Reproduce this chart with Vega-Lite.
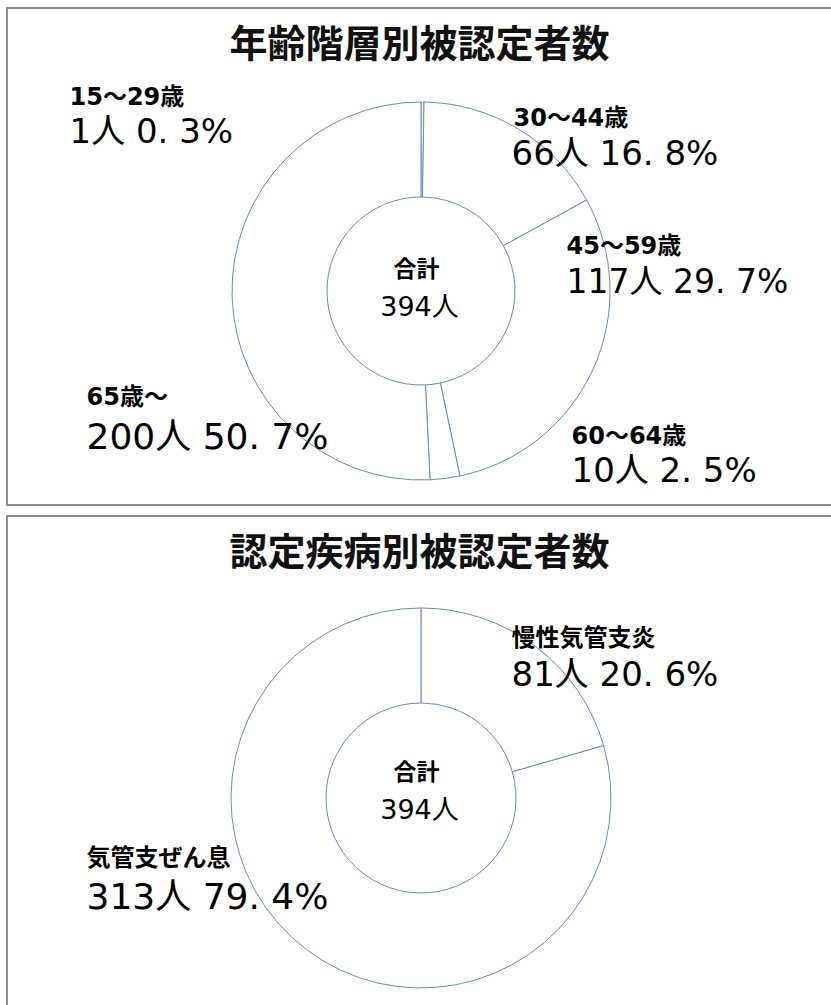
{
  "$schema": "https://vega.github.io/schema/vega-lite/v6.json",
  "padding": {"left": 6, "top": 7, "right": 0, "bottom": 0},
  "spacing": 9,
  "background": "white",
  "config": {
    "view": {"stroke": "#8c8c8c", "strokeWidth": 2},
    "style": {"view": {"stroke": "#8c8c8c", "strokeWidth": 2}},
    "font": "Noto Sans CJK JP",
    "text": {"font": "Noto Sans CJK JP", "color": "#000000"},
    "title": {"font": "Noto Sans CJK JP", "fontSize": 38, "fontWeight": "bold", "color": "#111111", "anchor": "middle", "frame": "group"}
  },
  "datasets": {
    "age": [
      {"seq": 1, "group": "15～29歳", "count": 1, "label": "1人  0. 3%"},
      {"seq": 2, "group": "30～44歳", "count": 66, "label": "66人  16. 8%"},
      {"seq": 3, "group": "45～59歳", "count": 117, "label": "117人  29. 7%"},
      {"seq": 4, "group": "60～64歳", "count": 10, "label": "10人  2. 5%"},
      {"seq": 5, "group": "65歳～", "count": 200, "label": "200人  50. 7%"}
    ],
    "disease": [
      {"seq": 1, "group": "慢性気管支炎", "count": 81, "label": "81人  20. 6%"},
      {"seq": 2, "group": "気管支ぜん息", "count": 313, "label": "313人  79. 4%"}
    ]
  },
  "vconcat": [
    {
      "width": 825,
      "height": 497,
      "view": {"stroke": "#8c8c8c", "strokeWidth": 2},
      "data": {"name": "age"},
      "title": {"text": "年齢階層別被認定者数", "offset": -57},
      "layer": [
        {
          "mark": {"type": "arc", "radius": 189, "radius2": 94, "fill": "white", "stroke": "#6a88c0", "strokeWidth": 1, "xOffset": 1.5, "yOffset": 34.5},
          "encoding": {
            "theta": {"field": "count", "type": "quantitative", "stack": true},
            "order": {"field": "seq", "type": "quantitative"}
          }
        },
        {
          "transform": [{"aggregate": [{"op": "sum", "field": "count", "as": "total"}]}],
          "mark": {"type": "text", "text": "合計", "align": "center", "baseline": "middle", "dx": -3, "dy": 13, "fontSize": 23, "fontWeight": "bold"},
          "encoding": {}
        },
        {
          "transform": [{"aggregate": [{"op": "sum", "field": "count", "as": "total"}]}, {"calculate": "datum.total + '人'", "as": "t"}],
          "mark": {"type": "text", "align": "center", "baseline": "middle", "dx": 0, "dy": 51, "fontSize": 27, "font": "DejaVu Sans, Noto Sans CJK JP"},
          "encoding": {"text": {"field": "t", "type": "nominal"}}
        },
        {"transform": [{"filter": "datum.seq == 1"}], "mark": {"type": "text", "align": "left", "baseline": "middle", "dx": -350, "dy": -159, "fontSize": 24, "fontWeight": "bold", "font": "DejaVu Sans, Noto Sans CJK JP"}, "encoding": {"text": {"field": "group", "type": "nominal"}}},
        {"transform": [{"filter": "datum.seq == 1"}], "mark": {"type": "text", "align": "left", "baseline": "middle", "dx": -350, "dy": -124, "fontSize": 34, "font": "DejaVu Sans, Noto Sans CJK JP"}, "encoding": {"text": {"field": "label", "type": "nominal"}}},
        {"transform": [{"filter": "datum.seq == 2"}], "mark": {"type": "text", "align": "left", "baseline": "middle", "dx": 94, "dy": -138, "fontSize": 24, "fontWeight": "bold", "font": "DejaVu Sans, Noto Sans CJK JP"}, "encoding": {"text": {"field": "group", "type": "nominal"}}},
        {"transform": [{"filter": "datum.seq == 2"}], "mark": {"type": "text", "align": "left", "baseline": "middle", "dx": 92, "dy": -102, "fontSize": 34, "font": "DejaVu Sans, Noto Sans CJK JP"}, "encoding": {"text": {"field": "label", "type": "nominal"}}},
        {"transform": [{"filter": "datum.seq == 3"}], "mark": {"type": "text", "align": "left", "baseline": "middle", "dx": 147, "dy": -10, "fontSize": 24, "fontWeight": "bold", "font": "DejaVu Sans, Noto Sans CJK JP"}, "encoding": {"text": {"field": "group", "type": "nominal"}}},
        {"transform": [{"filter": "datum.seq == 3"}], "mark": {"type": "text", "align": "left", "baseline": "middle", "dx": 147, "dy": 26, "fontSize": 33, "font": "DejaVu Sans, Noto Sans CJK JP"}, "encoding": {"text": {"field": "label", "type": "nominal"}}},
        {"transform": [{"filter": "datum.seq == 4"}], "mark": {"type": "text", "align": "left", "baseline": "middle", "dx": 152, "dy": 180, "fontSize": 24, "fontWeight": "bold", "font": "DejaVu Sans, Noto Sans CJK JP"}, "encoding": {"text": {"field": "group", "type": "nominal"}}},
        {"transform": [{"filter": "datum.seq == 4"}], "mark": {"type": "text", "align": "left", "baseline": "middle", "dx": 152, "dy": 215, "fontSize": 34, "font": "DejaVu Sans, Noto Sans CJK JP"}, "encoding": {"text": {"field": "label", "type": "nominal"}}},
        {"transform": [{"filter": "datum.seq == 5"}], "mark": {"type": "text", "align": "left", "baseline": "middle", "dx": -333, "dy": 141, "fontSize": 24, "fontWeight": "bold", "font": "DejaVu Sans, Noto Sans CJK JP"}, "encoding": {"text": {"field": "group", "type": "nominal"}}},
        {"transform": [{"filter": "datum.seq == 5"}], "mark": {"type": "text", "align": "left", "baseline": "middle", "dx": -333, "dy": 181, "fontSize": 36, "font": "DejaVu Sans, Noto Sans CJK JP"}, "encoding": {"text": {"field": "label", "type": "nominal"}}}
      ]
    },
    {
      "width": 825,
      "height": 492,
      "view": {"stroke": "#8c8c8c", "strokeWidth": 2},
      "data": {"name": "disease"},
      "title": {"text": "認定疾病別被認定者数", "offset": -57},
      "layer": [
        {
          "mark": {"type": "arc", "radius": 190, "radius2": 95, "fill": "white", "stroke": "#6a88c0", "strokeWidth": 1, "xOffset": 1.5, "yOffset": 36},
          "encoding": {
            "theta": {"field": "count", "type": "quantitative", "stack": true},
            "order": {"field": "seq", "type": "quantitative"}
          }
        },
        {
          "transform": [{"aggregate": [{"op": "sum", "field": "count", "as": "total"}]}],
          "mark": {"type": "text", "text": "合計", "align": "center", "baseline": "middle", "dx": -3, "dy": 11, "fontSize": 23, "fontWeight": "bold"},
          "encoding": {}
        },
        {
          "transform": [{"aggregate": [{"op": "sum", "field": "count", "as": "total"}]}, {"calculate": "datum.total + '人'", "as": "t"}],
          "mark": {"type": "text", "align": "center", "baseline": "middle", "dx": 0, "dy": 49, "fontSize": 27, "font": "DejaVu Sans, Noto Sans CJK JP"},
          "encoding": {"text": {"field": "t", "type": "nominal"}}
        },
        {"transform": [{"filter": "datum.seq == 1"}], "mark": {"type": "text", "align": "left", "baseline": "middle", "dx": 92, "dy": -123, "fontSize": 24, "fontWeight": "bold"}, "encoding": {"text": {"field": "group", "type": "nominal"}}},
        {"transform": [{"filter": "datum.seq == 1"}], "mark": {"type": "text", "align": "left", "baseline": "middle", "dx": 92, "dy": -86, "fontSize": 34, "font": "DejaVu Sans, Noto Sans CJK JP"}, "encoding": {"text": {"field": "label", "type": "nominal"}}},
        {"transform": [{"filter": "datum.seq == 2"}], "mark": {"type": "text", "align": "left", "baseline": "middle", "dx": -333, "dy": 97, "fontSize": 24, "fontWeight": "bold"}, "encoding": {"text": {"field": "group", "type": "nominal"}}},
        {"transform": [{"filter": "datum.seq == 2"}], "mark": {"type": "text", "align": "left", "baseline": "middle", "dx": -333, "dy": 136, "fontSize": 36, "font": "DejaVu Sans, Noto Sans CJK JP"}, "encoding": {"text": {"field": "label", "type": "nominal"}}}
      ]
    }
  ]
}
